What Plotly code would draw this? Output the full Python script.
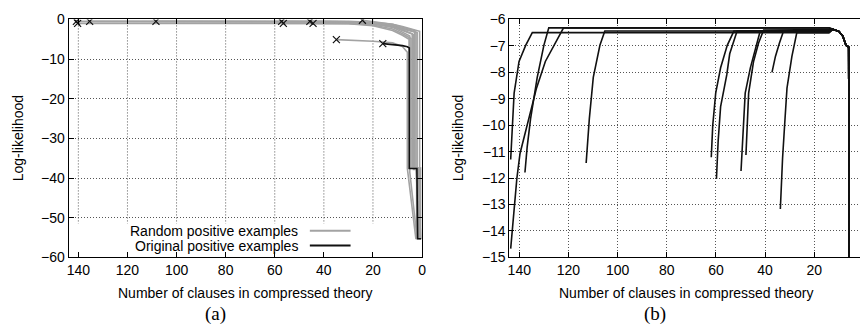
import plotly.graph_objects as go

W, H = 864, 333

# ---------------- Panel (a) data ----------------
gray_series = [
    ([140.8, 60, 30, 20, 12, 8, 1.0, 1.0, 0.6, 0.6],
     [-0.5, -0.5, -0.5, -0.7, -1.2, -1.8, -3.0, -37.5, -37.5, -55.4]),
    ([140.3, 60, 30, 20, 12, 8, 4.0, 4.0, 1.5, 1.5],
     [-1.0, -1.0, -1.0, -1.2, -1.8, -2.6, -3.6, -37.5, -37.5, -55.4]),
    ([135.4, 60, 30, 20, 12, 8, 2.5, 2.5, 0.8],
     [-0.5, -0.5, -0.6, -0.9, -1.5, -2.2, -3.2, -37.5, -55.4]),
    ([108.4, 60, 30, 20, 12, 8, 3.5, 3.5, 1.2, 1.2],
     [-0.5, -0.5, -0.6, -1.0, -1.8, -2.8, -3.8, -37.8, -37.8, -55.4]),
    ([57.2, 30, 20, 12, 8, 5.0, 5.0, 2.0],
     [-0.5, -0.6, -1.1, -2.0, -3.2, -4.2, -38.5, -55.4]),
    ([56.5, 30, 20, 12, 8, 4.5, 4.5, 1.8, 1.8],
     [-1.0, -1.0, -1.4, -2.4, -3.6, -4.8, -37.5, -37.5, -55.4]),
    ([45.7, 30, 20, 12, 8, 2.0, 2.0, 0.5],
     [-0.5, -0.6, -0.9, -1.6, -2.4, -3.3, -37.5, -55.4]),
    ([44.4, 30, 20, 12, 8, 5.3, 5.3, 2.2, 2.2],
     [-1.0, -1.1, -1.6, -2.8, -4.0, -5.0, -37.5, -37.5, -55.4]),
    ([24.3, 20, 12, 8, 3.0, 3.0, 1.0, 1.0],
     [-0.2, -0.6, -1.2, -2.0, -2.8, -37.5, -37.5, -55.4]),
    ([34.9, 30, 20, 12, 8, 6.0, 6.0, 2.5],
     [-5.1, -5.2, -5.5, -5.9, -6.8, -8.3, -37.5, -55.4]),
]
orig_a_x = [16, 12, 8, 6, 5.2, 5.2, 2.1, 1.8, 0.4]
orig_a_y = [-6.1, -6.3, -6.6, -6.9, -7.2, -37.6, -37.6, -55.3, -55.3]

# ---------------- Panel (b) data ----------------
tail_x = [14, 12.4, 10, 8.4, 7.1, 6.0, 5.8]
tail_y = [-6.36, -6.38, -6.45, -6.63, -6.98, -7.05, -15.0]
rise_series_b = [
    ([143.5, 141, 139.7, 136, 133, 129.4, 125.3, 122],
     [-14.67, -12.03, -11.07, -9.75, -8.6, -7.59, -6.86, -6.32]),
    ([143.5, 142.8, 142.1, 140.1, 137.4, 134.7],
     [-11.3, -9.99, -8.79, -7.59, -6.98, -6.5]),
    ([137.7, 136.8, 135.4, 132.7, 130, 128],
     [-11.79, -10.83, -9.75, -8.19, -6.98, -6.32]),
    ([112.8, 111.5, 109.9, 107.2, 105.2],
     [-11.43, -9.75, -8.19, -6.98, -6.44]),
    ([61.9, 61.3, 60.1, 58.1, 55.4, 52.7],
     [-11.21, -10.0, -8.79, -7.83, -6.98, -6.44]),
    ([59.8, 59.1, 58.1, 55.6, 54.4, 51.4],
     [-12.03, -10.6, -9.3, -8.1, -7.3, -6.44]),
    ([49.8, 49.0, 48.1, 46.0, 44.0, 42.0],
     [-11.73, -10.2, -8.79, -7.83, -7.1, -6.44]),
    ([47.8, 47.3, 46.7, 44.7, 42.7, 40.6],
     [-11.13, -10.0, -8.79, -7.59, -6.9, -6.4]),
    ([37.2, 35.8, 34.2, 32.5],
     [-8.0, -7.4, -6.9, -6.44]),
    ([33.8, 33.4, 32.9, 32.0, 31.1, 29.1, 27.1],
     [-13.17, -12.2, -11.25, -9.9, -8.6, -7.4, -6.5]),
]

xticks = [0, 20, 40, 60, 80, 100, 120, 140]
yticks_a = [-60, -50, -40, -30, -20, -10, 0]
yticks_b = [-15, -14, -13, -12, -11, -10, -9, -8, -7, -6]

legend_labels = ["Random positive examples", "Original positive examples"]
GRAY = "#a3a3a3"
BLACK = "#111111"
GRIDC = "#555555"
GRIDDASH = "1px,2px"

fig = go.Figure()

for xs, ys in gray_series:
    fig.add_trace(go.Scatter(x=xs, y=ys, mode="lines", line=dict(color=GRAY, width=1.6),
                             xaxis="x", yaxis="y", showlegend=False, hoverinfo="skip"))
fig.add_trace(go.Scatter(x=orig_a_x, y=orig_a_y, mode="lines", line=dict(color=BLACK, width=1.6),
                         xaxis="x", yaxis="y", showlegend=False))
# start markers
mx = [s[0][0] for s in gray_series] + [orig_a_x[0]]
my = [s[1][0] for s in gray_series] + [orig_a_y[0]]
fig.add_trace(go.Scatter(x=mx, y=my, mode="markers",
                         marker=dict(symbol="x-thin-open", size=7, color=BLACK,
                                     line=dict(width=1.2, color=BLACK)),
                         xaxis="x", yaxis="y", showlegend=False))

for xs, ys in rise_series_b:
    plateau = ys[-1]
    fx = xs + tail_x
    fy = ys + [plateau] + tail_y[1:]
    fig.add_trace(go.Scatter(x=fx, y=fy, mode="lines", line=dict(color=BLACK, width=1.6),
                             xaxis="x2", yaxis="y2", showlegend=False))

ydom = [1 - 262 / H, 1 - 12 / H]
font = dict(family="Liberation Sans, Arial, sans-serif", size=14, color="black")
axcommon = dict(showline=True, linecolor="black", linewidth=1, ticks="inside", ticklen=5,
                tickcolor="black", zeroline=False, showgrid=True, gridcolor=GRIDC,
                griddash=GRIDDASH, gridwidth=1, tickfont=font)

fig.update_layout(
    width=W, height=H, margin=dict(l=0, r=0, t=0, b=0),
    paper_bgcolor="white", plot_bgcolor="white", font=font,
    xaxis=dict(domain=[67 / W, 423 / W], range=[144, 0], tickvals=xticks, anchor="y",
               mirror="ticks", **{**axcommon, "showgrid": False}),
    yaxis=dict(domain=ydom, range=[-60, 0], tickvals=yticks_a, anchor="x",
               mirror="ticks", **axcommon),
    xaxis2=dict(domain=[511 / W, 1.0], range=[144, 1.4], tickvals=xticks, anchor="y2",
                mirror="ticks", **axcommon),
    yaxis2=dict(domain=ydom, range=[-15, -6], tickvals=yticks_b, anchor="x2",
                mirror=False, **axcommon),
)

# vertical dotted grid for panel (a) (stops above the key area)
for t in xticks[1:]:
    fig.add_shape(type="line", xref="x", yref="y", x0=t, x1=t, y0=0, y1=-51.5,
                  line=dict(color=GRIDC, width=1, dash=GRIDDASH), layer="below")

def note(text, xp, yp, fnt, angle=0, xanchor="center"):
    return dict(text=text, x=xp / W, y=1 - yp / H, xref="paper", yref="paper",
                xanchor=xanchor, yanchor="middle", textangle=angle,
                showarrow=False, font=fnt)

serif = dict(family="Liberation Serif, Times New Roman, serif", size=19, color="black")
ann = [
    note("Number of clauses in compressed theory", 245, 299, font),
    note("Number of clauses in compressed theory", 689, 299, font),
    note("Log-likelihood", 17, 137, font, angle=-90),
    note("Log-likelihood", 460, 137, font, angle=-90),
    note("(a)", 215, 321, serif),
    note("(b)", 658, 321, serif),
]
# key
for i, (lab, col) in enumerate(zip(legend_labels, [GRAY, BLACK])):
    yp = 234 + 15.5 * i
    ann.append(note(lab, 300, yp, font, xanchor="right"))
    fig.add_shape(type="line", xref="paper", yref="paper", x0=310 / W, x1=351 / W,
                  y0=1 - yp / H, y1=1 - yp / H, line=dict(color=col, width=1.8))
fig.update_layout(annotations=ann)

fig.write_html("out.html")
